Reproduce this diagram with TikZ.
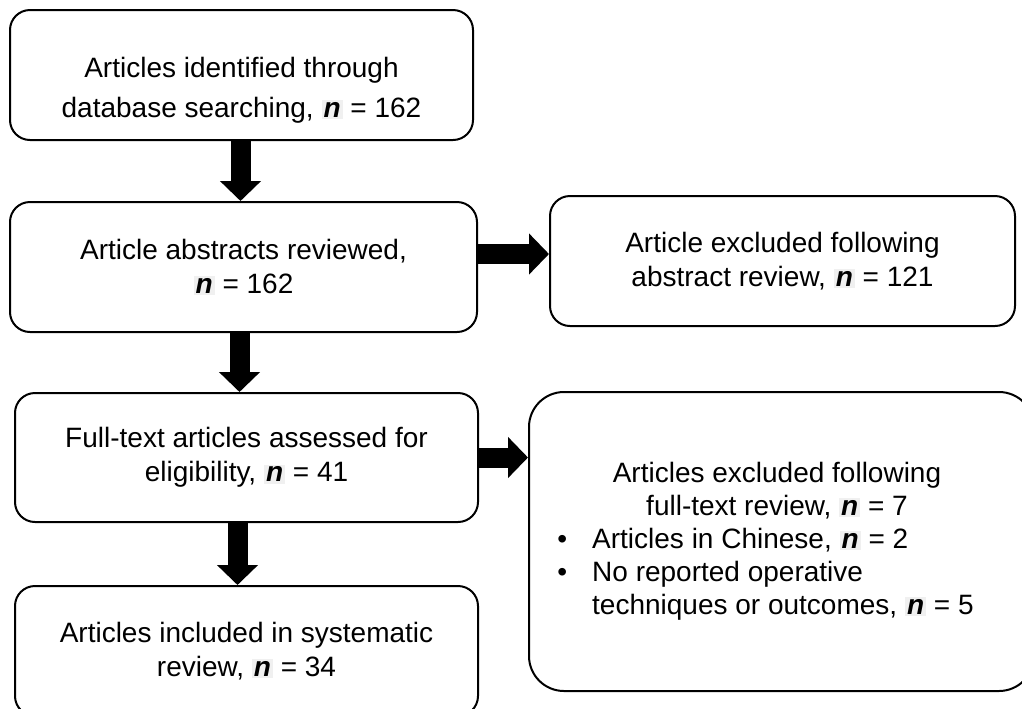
\documentclass[tikz,border=0pt]{standalone}
\usepackage{fontspec}
\setmainfont{Liberation Sans}
\usetikzlibrary{positioning,arrows.meta}
\definecolor{nshade}{gray}{0.94}
\newcommand{\nval}{{\setlength{\fboxsep}{1pt}\colorbox{nshade}{\textbf{\textit{n}}}}}

\begin{document}
\begin{tikzpicture}[x=0.5pt,y=-0.5pt,
   stage/.style={draw, line width=1pt, rounded corners=10pt, align=center,
      minimum width=231.5pt, minimum height=65pt, inner sep=0pt,
      font=\fontsize{14pt}{17pt}\selectfont},
   fat/.style={line width=10pt, -{Triangle[width=20pt,length=10pt]}}]
   \useasboundingbox (0,0) rectangle (1022,708);
   % left column
   \node[stage, font=\fontsize{14pt}{20pt}\selectfont] (ident) at (241.5,75) {\rule{0pt}{25pt}Articles identified through\\database searching, \nval{} = 162};
   \node[stage, minimum width=233.5pt, below=30pt of ident, xshift=1pt] (abstr) {Article abstracts reviewed,\\\nval{} = 162};
   \node[stage, minimum height=64.5pt, below=29.5pt of abstr, xshift=1.5pt] (fulltxt) {Full-text articles assessed for\\eligibility, \nval{} = 41};
   \node[stage, below=31pt of fulltxt] (incl) {Articles included in systematic\\review, \nval{} = 34};
   % right column
   \node[stage, minimum width=232.5pt, right=35.5pt of abstr, yshift=3pt] (exabs) {Article excluded following\\abstract review, \nval{} = 121};
   \node[stage, minimum width=252.5pt, minimum height=149.5pt, rounded corners=17.5pt, right=24.5pt of fulltxt, yshift=-42pt] (exfull) {};
   \node[anchor=base, font=\fontsize{14pt}{16.5pt}\selectfont] (exhead) at (777,482) {\begin{tabular}[t]{@{}c@{}}Articles excluded following\\full-text review, \nval{} = 7\end{tabular}};
   \node[anchor=base west, inner sep=0pt, font=\fontsize{14pt}{16.5pt}\selectfont] (exlist) at (557,548) {\begin{tabular}[t]{@{}l@{\hspace{12.5pt}}l@{}}\textbullet & Articles in Chinese, \nval{} = 2\\\textbullet & No reported operative\\ & techniques or outcomes, \nval{} = 5\end{tabular}};
   % arrows
   \draw[fat] ([xshift=-0.5pt]ident.south) -- ([xshift=-0.5pt]ident.south |- abstr.north);
   \draw[fat] ([xshift=-2pt]abstr.south) -- ([xshift=-2pt]abstr.south |- fulltxt.north);
   \draw[fat] ([xshift=-4.5pt]fulltxt.south) -- ([xshift=-4.5pt]incl.north);
   \draw[fat] ([yshift=6.5pt]abstr.east) -- ([yshift=6.5pt]abstr.east -| exabs.west);
   \draw[fat] (fulltxt.east) -- (fulltxt.east -| exfull.west);
\end{tikzpicture}
\end{document}
